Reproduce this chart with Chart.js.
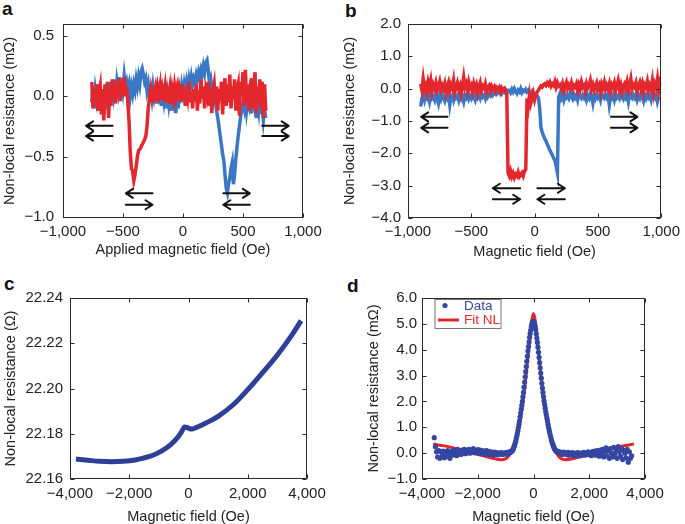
<!DOCTYPE html>
<html><head><meta charset="utf-8">
<script src="https://cdn.jsdelivr.net/npm/chart.js@4.4.1/dist/chart.umd.min.js"></script>
<style>
html,body{margin:0;padding:0;background:#fff;width:685px;height:524px;overflow:hidden;position:relative;}
canvas{position:absolute;}
.lbl{position:absolute;font:bold 19px "Liberation Sans",Arial,sans-serif;line-height:19px;color:#111;}
</style></head><body>
<div class="lbl" style="left:2px;top:-1px">a</div>
<div class="lbl" style="left:345px;top:1px">b</div>
<div class="lbl" style="left:4px;top:274px">c</div>
<div class="lbl" style="left:347px;top:276px">d</div>
<canvas id="ca" width="340" height="262" style="left:0;top:0"></canvas>
<canvas id="cb" width="345" height="262" style="left:340px;top:0"></canvas>
<canvas id="cc" width="340" height="262" style="left:0;top:262px"></canvas>
<canvas id="cd" width="345" height="262" style="left:340px;top:262px"></canvas>
<script>
// ---------- Panel a data (field sampled every 10 Oe from -760) ----------
const aFieldStart = -760, aFieldStep = 10;
const aRed = [
0.12,-0.10,0.05,-0.05,0.10,-0.12,0.02,0.08,-0.15,0.05,
-0.20,0.10,-0.05,0.12,-0.18,0.06,-0.08,0.14,-0.02,0.10,
-0.06,0.13,0.00,0.15,-0.04,0.12,0.02,0.16,0.00,0.08,
-0.05,-0.20,-0.45,-0.60,-0.62,-0.70,-0.65,-0.58,-0.50,-0.45,
-0.44,-0.42,-0.40,-0.38,-0.36,-0.33,-0.25,-0.10,-0.02,
0.05,-0.05,0.08,0.00,0.06,-0.04,0.07,0.02,0.09,-0.03,
0.06,0.01,0.08,-0.05,0.04,0.00,0.07,-0.06,0.05,-0.02,
0.08,0.00,0.06,-0.04,0.07,0.02,0.10,-0.03,0.06,-0.08,
0.08,0.00,0.12,-0.05,0.04,-0.10,0.06,-0.04,0.10,-0.12,
0.05,-0.06,0.14,-0.02,0.08,-0.10,0.05,0.00,0.12,-0.08,
0.06,-0.14,0.04,0.10,-0.06,0.08,-0.12,0.06,-0.04,0.12,
-0.15,0.05,0.15,-0.08,0.10,-0.05,0.18,-0.10,0.08,-0.02,
0.14,-0.12,0.05,0.10,-0.16,0.12,0.00,0.20,-0.08,0.22,
-0.05,0.10,-0.12,0.08,0.15,-0.10,0.05,0.20,-0.14,0.08,
-0.05,0.14,-0.10,0.12,-0.18,0.10,-0.12
];
const aBlue = [
-0.05,0.08,-0.10,0.05,-0.02,0.10,-0.08,0.04,-0.12,0.06,
-0.15,0.08,0.00,0.10,-0.10,0.12,-0.05,0.10,0.02,0.14,
-0.02,0.12,0.05,0.16,0.02,0.15,0.06,0.17,
0.08,0.12,0.05,0.10,0.00,0.08,0.02,0.10,0.05,0.14,
0.08,0.16,0.10,0.20,0.23,0.18,0.12,0.15,0.05,0.10,0.00,
0.05,-0.02,0.08,0.00,0.04,-0.06,0.06,0.00,0.05,-0.08,
0.03,-0.04,0.06,-0.10,0.02,-0.06,0.04,-0.12,0.00,-0.08,
0.05,-0.14,0.02,-0.10,0.06,-0.05,0.08,
0.02,0.10,0.04,0.12,0.06,0.14,0.08,0.16,0.10,0.15,
0.12,0.18,0.14,0.20,0.16,0.22,0.18,0.25,0.20,0.28,
0.30,0.22,0.12,0.15,0.05,0.08,
0.05,-0.05,-0.12,-0.18,-0.25,-0.33,-0.40,-0.48,-0.53,-0.65,
-0.76,-0.80,-0.72,-0.68,-0.60,-0.55,-0.73,-0.65,-0.52,-0.42,
-0.33,-0.25,-0.17,-0.10,-0.05,
-0.10,0.00,-0.12,-0.04,-0.08,0.02,-0.14,-0.06,0.00,-0.10,
-0.18,-0.05,-0.12,0.02,-0.15,-0.08,-0.20,-0.12,-0.18
];
const aXTicks = [-1000,-500,0,500,1000];
const aYTicks = [-1.0,-0.5,0.0,0.5];
// sweep-direction arrows (from x1 to x2 at y), data units
const aArrows = [
 {x1:-587,x2:-808,y:-0.245},{x1:-587,x2:-808,y:-0.33},
 {x1:660,x2:881,y:-0.245},{x1:660,x2:881,y:-0.33},
 {x1:-254,x2:-476,y:-0.805},{x1:-476,x2:-254,y:-0.90},
 {x1:336,x2:557,y:-0.805},{x1:557,x2:336,y:-0.90}
];

// ---------- Panel b data (field sampled every 10 Oe from -900) ----------
const bFieldStart = -900, bFieldStep = 10;
const bRed = [
0.15,-0.05,0.30,0.00,0.10,-0.10,0.20,0.05,0.25,-0.08,
0.12,0.02,0.18,-0.05,0.08,0.22,-0.02,0.10,0.00,0.15,
-0.12,0.08,0.20,-0.05,0.12,0.02,0.25,-0.10,0.05,0.18,
0.00,0.10,-0.15,0.08,0.35,0.05,0.15,-0.05,0.20,0.02,
0.10,-0.08,0.15,0.00,0.12,-0.12,0.05,0.18,-0.05,0.08,
0.02,0.15,-0.10,0.05,0.10,-0.05,0.08,0.00,0.06,-0.08,
0.04,0.00,0.05,-0.10,0.02,-0.05,0.00,-0.08,-0.12,
-2.60,-2.70,-2.55,-2.72,-2.62,-2.75,-2.65,-2.70,-2.58,-2.72,
-2.66,-2.60,-2.70,-2.55,-2.50,
-0.30,-0.55,-0.20,-0.45,-0.30,-0.15,-0.35,
-0.20,-0.10,-0.05,0.02,0.08,0.05,0.12,0.15,0.10,0.18,
0.12,0.20,0.08,0.15,0.10,0.22,0.05,0.18,0.08,0.12,
0.02,0.15,-0.05,0.10,0.20,0.00,0.12,0.05,0.18,-0.02,
0.10,0.05,0.15,-0.05,0.12,0.00,0.20,0.05,0.10,-0.08,
0.15,0.02,0.10,0.25,0.00,0.12,-0.05,0.08,0.18,0.00,
0.10,-0.10,0.15,0.05,0.20,-0.02,0.10,0.00,0.15,-0.08,
0.12,0.05,0.18,-0.05,0.10,0.25,0.00,0.12,-0.10,0.08,
0.15,0.02,0.20,-0.05,0.10,0.30,0.00,0.12,0.05,0.18,
-0.08,0.10,0.20,0.00,0.15,-0.10,0.12,0.05,0.22,-0.05,
0.10,0.00,0.25,-0.10,0.15,0.05,0.30,-0.05,0.20,0.10
];
const bBlue = [
-0.55,-0.30,-0.20,-0.35,-0.15,-0.28,-0.22,-0.40,-0.18,-0.30,
-0.25,-0.35,-0.15,-0.30,-0.45,-0.20,-0.32,-0.18,-0.28,-0.38,
-0.22,-0.30,-0.15,-0.50,-0.25,-0.20,-0.35,-0.18,-0.28,-0.22,
-0.35,-0.15,-0.30,-0.25,-0.40,-0.20,-0.28,-0.18,-0.32,-0.22,
-0.30,-0.15,-0.25,-0.35,-0.18,-0.28,-0.20,-0.30,-0.15,-0.25,
-0.20,-0.30,-0.12,-0.25,-0.18,-0.22,-0.10,-0.20,-0.15,-0.08,
-0.15,-0.05,-0.12,-0.08,-0.15,-0.05,-0.10,-0.02,-0.08,-0.05,
-0.05,-0.12,-0.02,-0.10,0.00,-0.08,-0.15,-0.05,-0.10,0.00,
-0.12,-0.05,-0.08,-0.02,-0.10,-0.05,-0.12,-0.15,-0.08,-0.18,-0.22,
-0.20,-0.22,-0.28,-0.60,-1.20,-1.35,-1.45,-1.55,-1.62,-1.72,
-1.80,-1.90,-1.98,-2.05,-2.15,-2.22,-2.40,-2.60,
-0.25,-0.15,-0.30,-0.20,-0.35,-0.18,-0.28,-0.22,-0.30,-0.15,
-0.25,-0.32,-0.18,-0.28,-0.20,-0.35,-0.15,-0.25,-0.30,-0.20,
-0.28,-0.18,-0.35,-0.22,-0.30,-0.15,-0.25,-0.45,-0.20,-0.30,
-0.18,-0.28,-0.22,-0.35,-0.15,-0.25,-0.30,-0.20,-0.28,-0.18,
-0.50,-0.25,-0.30,-0.20,-0.35,-0.18,-0.28,-0.22,-0.30,-0.15,
-0.25,-0.32,-0.18,-0.28,-0.20,-0.40,-0.15,-0.25,-0.30,-0.20,
-0.28,-0.18,-0.35,-0.22,-0.30,-0.15,-0.25,-0.38,-0.20,-0.30,
-0.18,-0.28,-0.22,-0.35,-0.15,-0.25,-0.30,-0.20,-0.40,-0.25
];
const bXTicks = [-1000,-500,0,500,1000];
const bYTicks = [-4,-3,-2,-1,0,1,2];
const bArrows = [
 {x1:-688,x2:-896,y:-0.87},{x1:-688,x2:-896,y:-1.21},
 {x1:603,x2:812,y:-0.87},{x1:603,x2:812,y:-1.21},
 {x1:-114,x2:-330,y:-3.08},{x1:-330,x2:-114,y:-3.42},
 {x1:22,x2:239,y:-3.08},{x1:239,x2:22,y:-3.42}
];

// ---------- Panel c data ----------
const cField = [-3800,-3400,-3000,-2600,-2200,-1800,-1500,-1200,-900,-600,-400,-250,-130,-60,40,130,250,500,750,1000,1500,2000,2500,3000,3500,3800];
const cRes   = [22.1688,22.1683,22.1678,22.1676,22.1678,22.1684,22.1693,22.1705,22.1724,22.1752,22.1778,22.1805,22.1830,22.1828,22.1822,22.1821,22.1827,22.1842,22.1858,22.1877,22.1927,22.1995,22.2070,22.2148,22.2238,22.2300];
const cXTicks = [-4000,-2000,0,2000,4000];
const cYTicks = [22.16,22.18,22.20,22.22,22.24];

// ---------- Panel d data ----------
const dLeftStart = -3560, dLeftStep = 40;
const dDataLeft = [
0.60,0.25,0.05,-0.15,0.10,-0.20,0.05,-0.10,0.08,-0.18,
0.02,-0.12,0.10,-0.05,-0.20,0.05,-0.08,0.12,-0.02,0.08,
-0.10,0.15,0.00,0.10,-0.05,0.12,0.02,0.15,-0.02,0.10,
0.05,0.15,0.00,0.12,0.08,0.18,0.02,0.10,0.05,0.14,
0.00,0.12,-0.02,0.10,0.05,0.08,-0.05,0.10,0.00,0.06,
-0.05,0.05,0.00,-0.08,0.04,-0.02,0.02,-0.06,0.00,-0.04,
0.02,-0.05,0.00,-0.03,0.02
];
const dCenterStart = -980, dCenterStep = 20;
const dDataCenter = [
0.00,-0.04,0.03,0.00,-0.02,0.04,0.02,0.05,0.03,0.08,0.06,0.10,0.12,0.18,
0.25,0.30,0.38,0.45,0.55,0.65,0.75,0.88,1.00,1.12,
1.25,1.40,1.55,1.70,1.85,2.00,2.18,2.35,2.55,2.75,
2.95,3.15,3.35,3.55,3.75,3.95,4.12,4.30,4.48,4.62,
4.75,4.88,4.98,5.05,5.10,5.10,5.08,5.00,4.90,4.78,
4.62,4.45,4.28,4.10,3.90,3.70,3.50,3.30,3.10,2.90,
2.70,2.52,2.35,2.18,2.02,1.88,1.74,1.60,1.48,1.36,
1.25,1.12,1.00,0.90,0.80,0.70,0.62,0.52,0.45,0.38,
0.32,0.26,0.20,0.16,0.12,0.10,0.06,0.08,0.04,0.06,
0.02,0.05,0.00,0.04,-0.02
];
const dRightStart = 1000, dRightStep = 40;
const dDataRight = [
0.02,-0.05,0.04,-0.02,0.00,-0.06,0.03,-0.08,0.00,-0.04,
0.02,-0.10,-0.02,0.00,-0.08,0.02,-0.05,-0.10,0.00,-0.06,
0.03,-0.08,0.00,-0.04,0.05,-0.06,0.02,-0.10,0.06,-0.02,
0.08,-0.08,0.10,0.00,-0.12,0.12,-0.05,0.15,-0.15,0.05,
0.20,-0.10,0.10,-0.20,0.18,0.00,-0.15,0.22,-0.05,0.12,
-0.20,0.25,0.05,-0.12,0.18,-0.25,0.10,0.00,-0.18,0.15,
-0.35,0.05,-0.20,-0.10
];
const dFitField = [-3600,-3200,-2800,-2400,-2000,-1600,-1300,-1150,-1000,-900,-800,-700,-600,-500,-400,-300,-200,-100,-50,0,50,100,200,300,400,500,600,700,800,900,1000,1150,1300,1600,2000,2400,2800,3200,3600];
const dFitValue = [0.35,0.28,0.18,0.06,-0.05,-0.16,-0.24,-0.26,-0.22,-0.12,0.05,0.30,0.65,1.15,1.80,2.65,3.70,4.75,5.20,5.40,5.20,4.75,3.70,2.65,1.80,1.15,0.65,0.30,0.05,-0.12,-0.22,-0.26,-0.24,-0.16,-0.05,0.06,0.18,0.28,0.35];
const dXTicks = [-4000,-2000,0,2000,4000];
const dYTicks = [-1,0,1,2,3,4,5,6];
const dLabels = ['Data','Fit NL'];

// ---------- helpers ----------
const FONT = '"Liberation Sans", Arial, Helvetica, sans-serif';
const TXT = '#222';
const BLUE_AB = '#3a78c5', RED = '#e4262d', BLUE_C = '#2e3f98', BLUE_D = '#3446a2';
function seq(start, step, vals){ return vals.map((v,i)=>({x:start+i*step, y:v})); }
function pairs(xs, ys){ return xs.map((x,i)=>({x:x, y:ys[i]})); }
const minus = '\u2212';
function fmtInt(v){ return (v<0?minus:'') + Math.abs(v).toLocaleString('en-US'); }
function fmtDec(d){ return v => (v<-1e-9?minus:'') + Math.abs(v).toFixed(d); }

const framePlugin = {
  id:'frame',
  afterDraw(chart){
    const {ctx, chartArea:{left,right,top,bottom}, scales} = chart;
    ctx.save();
    ctx.strokeStyle = '#2a2a2a'; ctx.lineWidth = 1;
    const L=Math.round(left)+0.5, R=Math.round(right)-0.5, T=Math.round(top)+0.5, B=Math.round(bottom)-0.5;
    ctx.strokeRect(L, T, R-L, B-T);
    ctx.beginPath();
    scales.x.ticks.forEach(t=>{
      const p = Math.round(scales.x.getPixelForValue(t.value))+0.5;
      ctx.moveTo(p,B); ctx.lineTo(p,B-4);
      ctx.moveTo(p,T); ctx.lineTo(p,T+4);
    });
    scales.y.ticks.forEach(t=>{
      const p = Math.round(scales.y.getPixelForValue(t.value))+0.5;
      ctx.moveTo(L,p); ctx.lineTo(L+4,p);
      ctx.moveTo(R,p); ctx.lineTo(R-4,p);
    });
    ctx.stroke();
    const arrows = chart.options.plugins.frame && chart.options.plugins.frame.arrows;
    if (arrows){
      ctx.strokeStyle = '#111'; ctx.lineWidth = 2; ctx.lineCap='round'; ctx.lineJoin='round';
      arrows.forEach(a=>{
        const x1 = scales.x.getPixelForValue(a.x1), x2 = scales.x.getPixelForValue(a.x2), y = scales.y.getPixelForValue(a.y);
        const dir = x2 > x1 ? 1 : -1;
        ctx.beginPath();
        ctx.moveTo(x1,y); ctx.lineTo(x2,y);
        ctx.moveTo(x2-dir*7,y-4.5); ctx.lineTo(x2,y); ctx.lineTo(x2-dir*7,y+4.5);
        ctx.stroke();
      });
    }
    const lg = chart.options.plugins.frame && chart.options.plugins.frame.legendBox;
    if (lg){
      const bx = left+12.5, by = top+1, bw = 66, bh = 29;
      ctx.fillStyle = '#fff'; ctx.fillRect(bx,by,bw,bh);
      ctx.strokeStyle = '#777'; ctx.lineWidth = 1; ctx.strokeRect(bx+0.5,by+0.5,bw,bh);
      const ds = chart.data.datasets;
      ctx.font = '13.5px ' + FONT; ctx.textBaseline = 'middle'; ctx.textAlign = 'left';
      ctx.fillStyle = ds[0].backgroundColor;
      ctx.beginPath(); ctx.arc(left+23, top+7.5, 2.6, 0, Math.PI*2); ctx.fill();
      ctx.fillText(ds[0].label, left+42, top+8);
      ctx.strokeStyle = ds[1].borderColor; ctx.lineWidth = 3; ctx.lineCap='butt';
      ctx.beginPath(); ctx.moveTo(left+16, top+22); ctx.lineTo(left+37, top+22); ctx.stroke();
      ctx.fillStyle = ds[1].borderColor;
      ctx.fillText(ds[1].label, left+42, top+22.5);
    }
    ctx.restore();
  }
};

function makeChart(id, datasets, o){
  const tickFont = {family:FONT, size:15};
  const titleFont = {family:FONT, size:14.5};
  return new Chart(document.getElementById(id), {
    type:'line',
    data:{datasets},
    plugins:[framePlugin],
    options:{
      responsive:false, animation:false, devicePixelRatio:1,
      layout:{padding:{top:o.padTop, right:o.padRight, left:0, bottom:0}},
      plugins:{legend:{display:false}, tooltip:{enabled:false}, frame:{arrows:o.arrows, legendBox:o.legendBox}},
      scales:{
        x:{type:'linear', min:o.xMin, max:o.xMax,
           afterBuildTicks:s=>{ s.ticks = o.xTicks.map(v=>({value:v})); },
           afterFit:s=>{ s.height = o.xHeight; },
           grid:{display:false, drawTicks:false, tickLength:0}, border:{display:false},
           ticks:{padding:o.xTickPad, autoSkip:false, maxRotation:0, color:TXT, font:tickFont, callback:v=>fmtInt(v)},
           title:{display:true, text:o.xTitle, color:TXT, font:titleFont, padding:{top:0, bottom:o.xTitlePad}}},
        y:{type:'linear', min:o.yMin, max:o.yMax,
           afterBuildTicks:s=>{ s.ticks = o.yTicks.map(v=>({value:v})); },
           afterFit:s=>{ s.width = o.yWidth; },
           grid:{display:false, drawTicks:false, tickLength:0}, border:{display:false},
           ticks:{padding:o.yTickPad, autoSkip:false, color:TXT, font:tickFont, callback:v=>o.yFmt(v)},
           title:{display:true, text:o.yTitle, color:TXT, font:titleFont, padding:{top:o.yTitlePad, bottom:0}}}
      }
    }
  });
}

const lineDs = (label, pts, color, order, w) => ({label, data:pts, borderColor:color, backgroundColor:color, borderWidth:w||3.5, pointRadius:0, tension:0, fill:false, order});

makeChart('ca', [
  lineDs('red', seq(aFieldStart, aFieldStep, aRed), RED, 0),
  lineDs('blue', seq(aFieldStart, aFieldStep, aBlue), BLUE_AB, 1)
], {xMin:-1000,xMax:1000,yMin:-1.01,yMax:0.6,xTicks:aXTicks,yTicks:aYTicks,yFmt:fmtDec(1),
    xTitle:'Applied magnetic field (Oe)', yTitle:'Non-local resistance (m\u03A9)',
    padTop:24, padRight:37, yWidth:63, xHeight:44, xTickPad:5, yTickPad:9, yTitlePad:1.3, xTitlePad:3, arrows:aArrows});

makeChart('cb', [
  lineDs('red', seq(bFieldStart, bFieldStep, bRed), RED, 0),
  lineDs('blue', seq(bFieldStart, bFieldStep, bBlue), BLUE_AB, 1)
], {xMin:-1000,xMax:1000,yMin:-4,yMax:2,xTicks:bXTicks,yTicks:bYTicks,yFmt:fmtDec(1),
    xTitle:'Magnetic field (Oe)', yTitle:'Non-local resistance (m\u03A9)',
    padTop:24, padRight:21, yWidth:68, xHeight:44, xTickPad:5, yTickPad:7, yTitlePad:1.3, xTitlePad:1, arrows:bArrows});

makeChart('cc', [
  Object.assign(lineDs('c', pairs(cField, cRes), BLUE_C, 0, 5), {cubicInterpolationMode:'monotone'})
], {xMin:-4000,xMax:4000,yMin:22.16,yMax:22.24,xTicks:cXTicks,yTicks:cYTicks,yFmt:fmtDec(2),
    xTitle:'Magnetic field (Oe)', yTitle:'Non-local resistance (\u03A9)',
    padTop:36, padRight:33, yWidth:70, xHeight:45, xTickPad:6, yTickPad:7, yTitlePad:2, xTitlePad:-2});

const dPoints = seq(dLeftStart, dLeftStep, dDataLeft)
  .concat(seq(dCenterStart, dCenterStep, dDataCenter))
  .concat(seq(dRightStart, dRightStep, dDataRight));
makeChart('cd', [
  {type:'scatter', label:dLabels[0], data:dPoints, backgroundColor:BLUE_D, borderColor:BLUE_D, pointRadius:2.6, pointBorderWidth:0, showLine:false, order:0},
  Object.assign(lineDs(dLabels[1], pairs(dFitField, dFitValue), RED, 1, 3), {cubicInterpolationMode:'monotone'})
], {xMin:-4000,xMax:4000,yMin:-1,yMax:6,xTicks:dXTicks,yTicks:dYTicks,yFmt:fmtDec(1),
    xTitle:'Magnetic field (Oe)', yTitle:'Non-local resistance (m\u03A9)',
    padTop:36, padRight:40, yWidth:82, xHeight:45, xTickPad:6, yTickPad:5, yTitlePad:25, xTitlePad:-2, legendBox:true});
</script>
</body></html>
